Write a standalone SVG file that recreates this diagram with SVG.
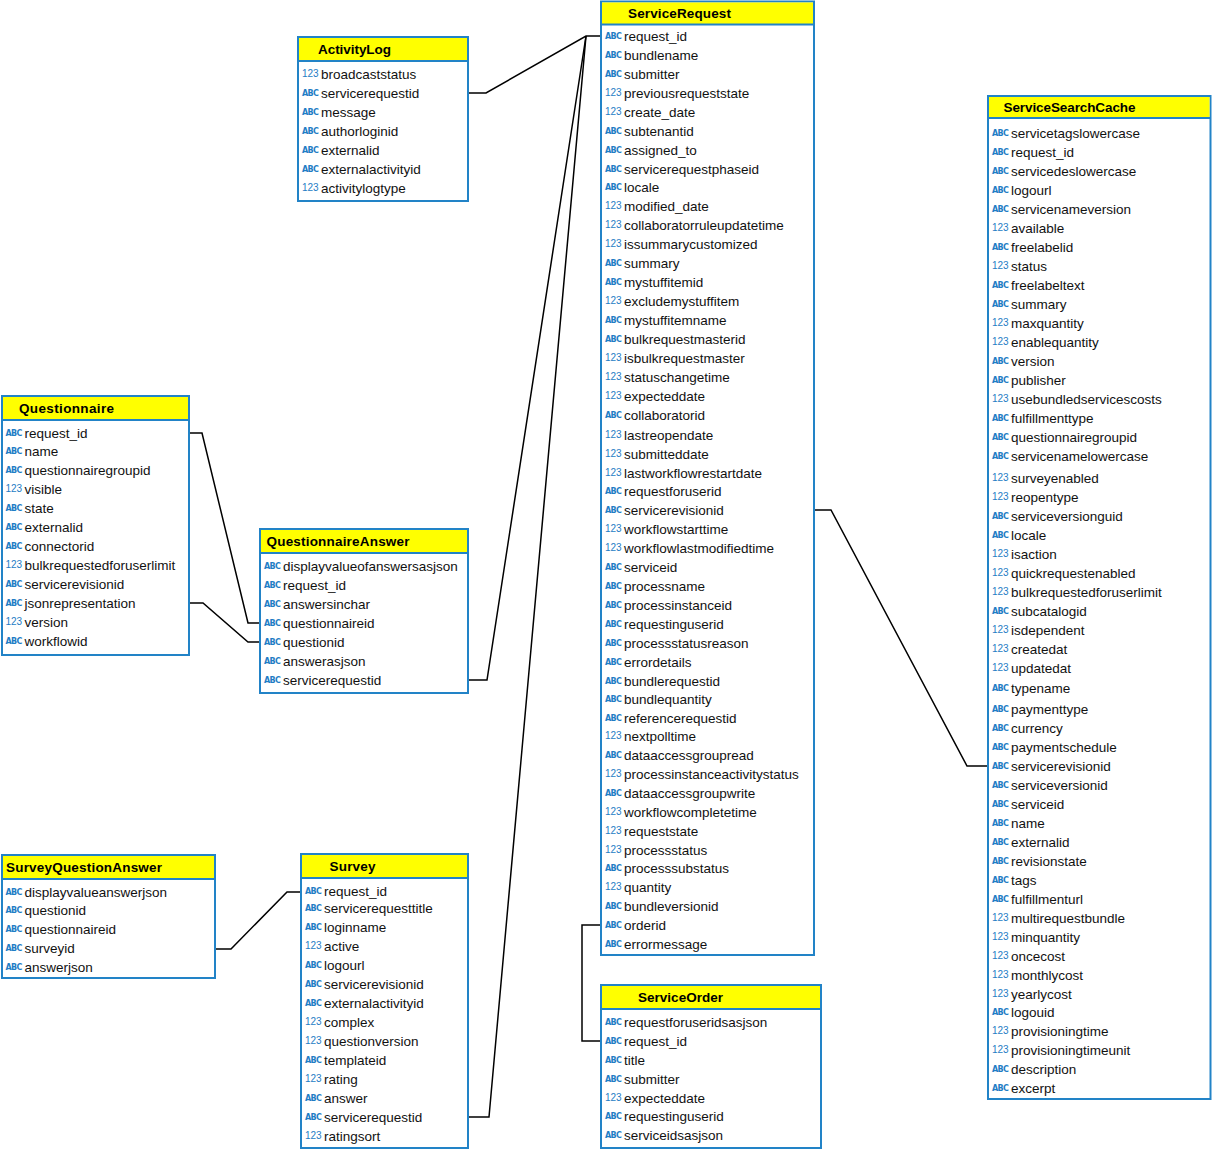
<svg xmlns="http://www.w3.org/2000/svg" width="1212" height="1150" viewBox="0 0 1212 1150">
<style>
.bg{fill:#fff}
.box{fill:#fff;stroke:#2283c7;stroke-width:2}
.hdr{fill:#ffff00}
.sep{stroke:#2283c7;stroke-width:2}
.t{font-family:"Liberation Sans",Arial,sans-serif;font-weight:bold;font-size:13.5px;fill:#000}
.f{font-family:"Liberation Sans",Arial,sans-serif;font-size:13.5px;fill:#111}
.a{font-family:"DejaVu Sans",sans-serif;font-weight:bold;font-size:8px;letter-spacing:-0.7px;fill:#1f7dc5}
.n{font-family:"Liberation Sans",Arial,sans-serif;font-size:10px;fill:#1f7dc5}
.c{fill:none;stroke:#000;stroke-width:1.5}
</style>
<rect class="bg" x="0" y="0" width="1212" height="1150"/>
<g id="connectors">
<path class="c" d="M468,93 H486 L586,36 H601"/>
<path class="c" d="M468,680 H487 L586,36"/>
<path class="c" d="M468,1117 H489 L586,36"/>
<path class="c" d="M189,433 H202 L248,623 H260"/>
<path class="c" d="M189,603 H203 L248,642 H260"/>
<path class="c" d="M215,949 H231 L287,892 H301"/>
<path class="c" d="M601,925 H582 V1041 H601"/>
<path class="c" d="M814,510 H831 L967,766 H988"/>
</g>
<g id="ActivityLog">
<rect class="box" x="298" y="37" width="170" height="164"/>
<rect class="hdr" x="299" y="38" width="168" height="23"/>
<line class="sep" x1="298" y1="61" x2="468" y2="61"/>
<text class="t" x="318" y="54" textLength="73">ActivityLog</text>
<text class="n" x="302" y="77">123</text><text class="f" x="321" y="78.5">broadcaststatus</text>
<text class="a" x="302" y="95.5">ABC</text><text class="f" x="321" y="97.5">servicerequestid</text>
<text class="a" x="302" y="114.5">ABC</text><text class="f" x="321" y="116.5">message</text>
<text class="a" x="302" y="133.5">ABC</text><text class="f" x="321" y="135.5">authorloginid</text>
<text class="a" x="302" y="152.5">ABC</text><text class="f" x="321" y="154.5">externalid</text>
<text class="a" x="302" y="171.5">ABC</text><text class="f" x="321" y="173.5">externalactivityid</text>
<text class="n" x="302" y="191">123</text><text class="f" x="321" y="192.5">activitylogtype</text>
</g>
<g id="ServiceRequest">
<rect class="box" x="601" y="1.5" width="213" height="953.5"/>
<rect class="hdr" x="602" y="2.5" width="211" height="22"/>
<line class="sep" x1="601" y1="24.5" x2="814" y2="24.5"/>
<text class="t" x="628" y="18" textLength="103">ServiceRequest</text>
<text class="a" x="605" y="38.5">ABC</text><text class="f" x="624" y="40.5">request_id</text>
<text class="a" x="605" y="57.5">ABC</text><text class="f" x="624" y="59.5">bundlename</text>
<text class="a" x="605" y="76.5">ABC</text><text class="f" x="624" y="78.5">submitter</text>
<text class="n" x="605" y="96">123</text><text class="f" x="624" y="97.5">previousrequeststate</text>
<text class="n" x="605" y="115">123</text><text class="f" x="624" y="116.5">create_date</text>
<text class="a" x="605" y="133.5">ABC</text><text class="f" x="624" y="135.5">subtenantid</text>
<text class="a" x="605" y="152.5">ABC</text><text class="f" x="624" y="154.5">assigned_to</text>
<text class="a" x="605" y="171.5">ABC</text><text class="f" x="624" y="173.5">servicerequestphaseid</text>
<text class="a" x="605" y="189.5">ABC</text><text class="f" x="624" y="191.5">locale</text>
<text class="n" x="605" y="209">123</text><text class="f" x="624" y="210.5">modified_date</text>
<text class="n" x="605" y="228">123</text><text class="f" x="624" y="229.5">collaboratorruleupdatetime</text>
<text class="n" x="605" y="247">123</text><text class="f" x="624" y="248.5">issummarycustomized</text>
<text class="a" x="605" y="265.5">ABC</text><text class="f" x="624" y="267.5">summary</text>
<text class="a" x="605" y="284.5">ABC</text><text class="f" x="624" y="286.5">mystuffitemid</text>
<text class="n" x="605" y="304">123</text><text class="f" x="624" y="305.5">excludemystuffitem</text>
<text class="a" x="605" y="322.5">ABC</text><text class="f" x="624" y="324.5">mystuffitemname</text>
<text class="a" x="605" y="341.5">ABC</text><text class="f" x="624" y="343.5">bulkrequestmasterid</text>
<text class="n" x="605" y="361">123</text><text class="f" x="624" y="362.5">isbulkrequestmaster</text>
<text class="n" x="605" y="380">123</text><text class="f" x="624" y="381.5">statuschangetime</text>
<text class="n" x="605" y="399">123</text><text class="f" x="624" y="400.5">expecteddate</text>
<text class="a" x="605" y="417.5">ABC</text><text class="f" x="624" y="419.5">collaboratorid</text>
<text class="n" x="605" y="438">123</text><text class="f" x="624" y="439.5">lastreopendate</text>
<text class="n" x="605" y="457">123</text><text class="f" x="624" y="458.5">submitteddate</text>
<text class="n" x="605" y="476">123</text><text class="f" x="624" y="477.5">lastworkflowrestartdate</text>
<text class="a" x="605" y="493.5">ABC</text><text class="f" x="624" y="495.5">requestforuserid</text>
<text class="a" x="605" y="512.5">ABC</text><text class="f" x="624" y="514.5">servicerevisionid</text>
<text class="n" x="605" y="532">123</text><text class="f" x="624" y="533.5">workflowstarttime</text>
<text class="n" x="605" y="551">123</text><text class="f" x="624" y="552.5">workflowlastmodifiedtime</text>
<text class="a" x="605" y="569.5">ABC</text><text class="f" x="624" y="571.5">serviceid</text>
<text class="a" x="605" y="588.5">ABC</text><text class="f" x="624" y="590.5">processname</text>
<text class="a" x="605" y="607.5">ABC</text><text class="f" x="624" y="609.5">processinstanceid</text>
<text class="a" x="605" y="626.5">ABC</text><text class="f" x="624" y="628.5">requestinguserid</text>
<text class="a" x="605" y="645.5">ABC</text><text class="f" x="624" y="647.5">processstatusreason</text>
<text class="a" x="605" y="664.5">ABC</text><text class="f" x="624" y="666.5">errordetails</text>
<text class="a" x="605" y="683.5">ABC</text><text class="f" x="624" y="685.5">bundlerequestid</text>
<text class="a" x="605" y="701.5">ABC</text><text class="f" x="624" y="703.5">bundlequantity</text>
<text class="a" x="605" y="720.5">ABC</text><text class="f" x="624" y="722.5">referencerequestid</text>
<text class="n" x="605" y="739">123</text><text class="f" x="624" y="740.5">nextpolltime</text>
<text class="a" x="605" y="757.5">ABC</text><text class="f" x="624" y="759.5">dataaccessgroupread</text>
<text class="n" x="605" y="777">123</text><text class="f" x="624" y="778.5">processinstanceactivitystatus</text>
<text class="a" x="605" y="795.5">ABC</text><text class="f" x="624" y="797.5">dataaccessgroupwrite</text>
<text class="n" x="605" y="815">123</text><text class="f" x="624" y="816.5">workflowcompletetime</text>
<text class="n" x="605" y="834">123</text><text class="f" x="624" y="835.5">requeststate</text>
<text class="n" x="605" y="853">123</text><text class="f" x="624" y="854.5">processstatus</text>
<text class="a" x="605" y="870.5">ABC</text><text class="f" x="624" y="872.5">processsubstatus</text>
<text class="n" x="605" y="890">123</text><text class="f" x="624" y="891.5">quantity</text>
<text class="a" x="605" y="908.5">ABC</text><text class="f" x="624" y="910.5">bundleversionid</text>
<text class="a" x="605" y="927.5">ABC</text><text class="f" x="624" y="929.5">orderid</text>
<text class="a" x="605" y="946.5">ABC</text><text class="f" x="624" y="948.5">errormessage</text>
</g>
<g id="ServiceOrder">
<rect class="box" x="601" y="985" width="220" height="163"/>
<rect class="hdr" x="602" y="986" width="218" height="23"/>
<line class="sep" x1="601" y1="1009" x2="821" y2="1009"/>
<text class="t" x="638" y="1002" textLength="85">ServiceOrder</text>
<text class="a" x="605" y="1024.5">ABC</text><text class="f" x="624" y="1026.5">requestforuseridsasjson</text>
<text class="a" x="605" y="1043.5">ABC</text><text class="f" x="624" y="1045.5">request_id</text>
<text class="a" x="605" y="1062.5">ABC</text><text class="f" x="624" y="1064.5">title</text>
<text class="a" x="605" y="1081.5">ABC</text><text class="f" x="624" y="1083.5">submitter</text>
<text class="n" x="605" y="1101">123</text><text class="f" x="624" y="1102.5">expecteddate</text>
<text class="a" x="605" y="1118.5">ABC</text><text class="f" x="624" y="1120.5">requestinguserid</text>
<text class="a" x="605" y="1137.5">ABC</text><text class="f" x="624" y="1139.5">serviceidsasjson</text>
</g>
<g id="ServiceSearchCache">
<rect class="box" x="988" y="96" width="222.5" height="1003"/>
<rect class="hdr" x="989" y="97" width="220.5" height="21"/>
<line class="sep" x1="988" y1="118" x2="1210.5" y2="118"/>
<text class="t" x="1003.5" y="112" textLength="132">ServiceSearchCache</text>
<text class="a" x="992" y="135.5">ABC</text><text class="f" x="1011" y="137.5">servicetagslowercase</text>
<text class="a" x="992" y="154.5">ABC</text><text class="f" x="1011" y="156.5">request_id</text>
<text class="a" x="992" y="173.5">ABC</text><text class="f" x="1011" y="175.5">servicedeslowercase</text>
<text class="a" x="992" y="192.5">ABC</text><text class="f" x="1011" y="194.5">logourl</text>
<text class="a" x="992" y="211.5">ABC</text><text class="f" x="1011" y="213.5">servicenameversion</text>
<text class="n" x="992" y="231">123</text><text class="f" x="1011" y="232.5">available</text>
<text class="a" x="992" y="249.5">ABC</text><text class="f" x="1011" y="251.5">freelabelid</text>
<text class="n" x="992" y="269">123</text><text class="f" x="1011" y="270.5">status</text>
<text class="a" x="992" y="287.5">ABC</text><text class="f" x="1011" y="289.5">freelabeltext</text>
<text class="a" x="992" y="306.5">ABC</text><text class="f" x="1011" y="308.5">summary</text>
<text class="n" x="992" y="326">123</text><text class="f" x="1011" y="327.5">maxquantity</text>
<text class="n" x="992" y="345">123</text><text class="f" x="1011" y="346.5">enablequantity</text>
<text class="a" x="992" y="363.5">ABC</text><text class="f" x="1011" y="365.5">version</text>
<text class="a" x="992" y="382.5">ABC</text><text class="f" x="1011" y="384.5">publisher</text>
<text class="n" x="992" y="402">123</text><text class="f" x="1011" y="403.5">usebundledservicescosts</text>
<text class="a" x="992" y="420.5">ABC</text><text class="f" x="1011" y="422.5">fulfillmenttype</text>
<text class="a" x="992" y="439.5">ABC</text><text class="f" x="1011" y="441.5">questionnairegroupid</text>
<text class="a" x="992" y="458.5">ABC</text><text class="f" x="1011" y="460.5">servicenamelowercase</text>
<text class="n" x="992" y="481">123</text><text class="f" x="1011" y="482.5">surveyenabled</text>
<text class="n" x="992" y="500">123</text><text class="f" x="1011" y="501.5">reopentype</text>
<text class="a" x="992" y="518.5">ABC</text><text class="f" x="1011" y="520.5">serviceversionguid</text>
<text class="a" x="992" y="537.5">ABC</text><text class="f" x="1011" y="539.5">locale</text>
<text class="n" x="992" y="557">123</text><text class="f" x="1011" y="558.5">isaction</text>
<text class="n" x="992" y="576">123</text><text class="f" x="1011" y="577.5">quickrequestenabled</text>
<text class="n" x="992" y="595">123</text><text class="f" x="1011" y="596.5">bulkrequestedforuserlimit</text>
<text class="a" x="992" y="613.5">ABC</text><text class="f" x="1011" y="615.5">subcatalogid</text>
<text class="n" x="992" y="633">123</text><text class="f" x="1011" y="634.5">isdependent</text>
<text class="n" x="992" y="652">123</text><text class="f" x="1011" y="653.5">createdat</text>
<text class="n" x="992" y="671">123</text><text class="f" x="1011" y="672.5">updatedat</text>
<text class="a" x="992" y="690.5">ABC</text><text class="f" x="1011" y="692.5">typename</text>
<text class="a" x="992" y="711.5">ABC</text><text class="f" x="1011" y="713.5">paymenttype</text>
<text class="a" x="992" y="730.5">ABC</text><text class="f" x="1011" y="732.5">currency</text>
<text class="a" x="992" y="749.5">ABC</text><text class="f" x="1011" y="751.5">paymentschedule</text>
<text class="a" x="992" y="768.5">ABC</text><text class="f" x="1011" y="770.5">servicerevisionid</text>
<text class="a" x="992" y="787.5">ABC</text><text class="f" x="1011" y="789.5">serviceversionid</text>
<text class="a" x="992" y="806.5">ABC</text><text class="f" x="1011" y="808.5">serviceid</text>
<text class="a" x="992" y="825.5">ABC</text><text class="f" x="1011" y="827.5">name</text>
<text class="a" x="992" y="844.5">ABC</text><text class="f" x="1011" y="846.5">externalid</text>
<text class="a" x="992" y="863.5">ABC</text><text class="f" x="1011" y="865.5">revisionstate</text>
<text class="a" x="992" y="882.5">ABC</text><text class="f" x="1011" y="884.5">tags</text>
<text class="a" x="992" y="901.5">ABC</text><text class="f" x="1011" y="903.5">fulfillmenturl</text>
<text class="n" x="992" y="921">123</text><text class="f" x="1011" y="922.5">multirequestbundle</text>
<text class="n" x="992" y="940">123</text><text class="f" x="1011" y="941.5">minquantity</text>
<text class="n" x="992" y="959">123</text><text class="f" x="1011" y="960.5">oncecost</text>
<text class="n" x="992" y="978">123</text><text class="f" x="1011" y="979.5">monthlycost</text>
<text class="n" x="992" y="997">123</text><text class="f" x="1011" y="998.5">yearlycost</text>
<text class="a" x="992" y="1014.5">ABC</text><text class="f" x="1011" y="1016.5">logouid</text>
<text class="n" x="992" y="1034">123</text><text class="f" x="1011" y="1035.5">provisioningtime</text>
<text class="n" x="992" y="1053">123</text><text class="f" x="1011" y="1054.5">provisioningtimeunit</text>
<text class="a" x="992" y="1071.5">ABC</text><text class="f" x="1011" y="1073.5">description</text>
<text class="a" x="992" y="1090.5">ABC</text><text class="f" x="1011" y="1092.5">excerpt</text>
</g>
<g id="Questionnaire">
<rect class="box" x="2" y="396" width="187" height="259"/>
<rect class="hdr" x="3" y="397" width="185" height="23"/>
<line class="sep" x1="2" y1="420" x2="189" y2="420"/>
<text class="t" x="19" y="413" textLength="95">Questionnaire</text>
<text class="a" x="5.5" y="435.5">ABC</text><text class="f" x="24.5" y="437.5">request_id</text>
<text class="a" x="5.5" y="453.5">ABC</text><text class="f" x="24.5" y="455.5">name</text>
<text class="a" x="5.5" y="472.5">ABC</text><text class="f" x="24.5" y="474.5">questionnairegroupid</text>
<text class="n" x="5.5" y="492">123</text><text class="f" x="24.5" y="493.5">visible</text>
<text class="a" x="5.5" y="510.5">ABC</text><text class="f" x="24.5" y="512.5">state</text>
<text class="a" x="5.5" y="529.5">ABC</text><text class="f" x="24.5" y="531.5">externalid</text>
<text class="a" x="5.5" y="548.5">ABC</text><text class="f" x="24.5" y="550.5">connectorid</text>
<text class="n" x="5.5" y="568">123</text><text class="f" x="24.5" y="569.5">bulkrequestedforuserlimit</text>
<text class="a" x="5.5" y="586.5">ABC</text><text class="f" x="24.5" y="588.5">servicerevisionid</text>
<text class="a" x="5.5" y="605.5">ABC</text><text class="f" x="24.5" y="607.5">jsonrepresentation</text>
<text class="n" x="5.5" y="625">123</text><text class="f" x="24.5" y="626.5">version</text>
<text class="a" x="5.5" y="643.5">ABC</text><text class="f" x="24.5" y="645.5">workflowid</text>
</g>
<g id="QuestionnaireAnswer">
<rect class="box" x="260" y="529" width="208" height="164"/>
<rect class="hdr" x="261" y="530" width="206" height="23"/>
<line class="sep" x1="260" y1="553" x2="468" y2="553"/>
<text class="t" x="266.5" y="546" textLength="143">QuestionnaireAnswer</text>
<text class="a" x="264" y="568.5">ABC</text><text class="f" x="283" y="570.5">displayvalueofanswersasjson</text>
<text class="a" x="264" y="587.5">ABC</text><text class="f" x="283" y="589.5">request_id</text>
<text class="a" x="264" y="606.5">ABC</text><text class="f" x="283" y="608.5">answersinchar</text>
<text class="a" x="264" y="625.5">ABC</text><text class="f" x="283" y="627.5">questionnaireid</text>
<text class="a" x="264" y="644.5">ABC</text><text class="f" x="283" y="646.5">questionid</text>
<text class="a" x="264" y="663.5">ABC</text><text class="f" x="283" y="665.5">answerasjson</text>
<text class="a" x="264" y="682.5">ABC</text><text class="f" x="283" y="684.5">servicerequestid</text>
</g>
<g id="SurveyQuestionAnswer">
<rect class="box" x="2" y="855" width="213" height="123"/>
<rect class="hdr" x="3" y="856" width="211" height="23"/>
<line class="sep" x1="2" y1="879" x2="215" y2="879"/>
<text class="t" x="6" y="872" textLength="156">SurveyQuestionAnswer</text>
<text class="a" x="5.5" y="894.5">ABC</text><text class="f" x="24.5" y="896.5">displayvalueanswerjson</text>
<text class="a" x="5.5" y="912.5">ABC</text><text class="f" x="24.5" y="914.5">questionid</text>
<text class="a" x="5.5" y="931.5">ABC</text><text class="f" x="24.5" y="933.5">questionnaireid</text>
<text class="a" x="5.5" y="950.5">ABC</text><text class="f" x="24.5" y="952.5">surveyid</text>
<text class="a" x="5.5" y="969.5">ABC</text><text class="f" x="24.5" y="971.5">answerjson</text>
</g>
<g id="Survey">
<rect class="box" x="301" y="854" width="167" height="294"/>
<rect class="hdr" x="302" y="855" width="165" height="23"/>
<line class="sep" x1="301" y1="878" x2="468" y2="878"/>
<text class="t" x="329.5" y="871" textLength="46">Survey</text>
<text class="a" x="305" y="893.5">ABC</text><text class="f" x="324" y="895.5">request_id</text>
<text class="a" x="305" y="910.5">ABC</text><text class="f" x="324" y="912.5">servicerequesttitle</text>
<text class="a" x="305" y="929.5">ABC</text><text class="f" x="324" y="931.5">loginname</text>
<text class="n" x="305" y="949">123</text><text class="f" x="324" y="950.5">active</text>
<text class="a" x="305" y="967.5">ABC</text><text class="f" x="324" y="969.5">logourl</text>
<text class="a" x="305" y="986.5">ABC</text><text class="f" x="324" y="988.5">servicerevisionid</text>
<text class="a" x="305" y="1005.5">ABC</text><text class="f" x="324" y="1007.5">externalactivityid</text>
<text class="n" x="305" y="1025">123</text><text class="f" x="324" y="1026.5">complex</text>
<text class="n" x="305" y="1044">123</text><text class="f" x="324" y="1045.5">questionversion</text>
<text class="a" x="305" y="1062.5">ABC</text><text class="f" x="324" y="1064.5">templateid</text>
<text class="n" x="305" y="1082">123</text><text class="f" x="324" y="1083.5">rating</text>
<text class="a" x="305" y="1100.5">ABC</text><text class="f" x="324" y="1102.5">answer</text>
<text class="a" x="305" y="1119.5">ABC</text><text class="f" x="324" y="1121.5">servicerequestid</text>
<text class="n" x="305" y="1139">123</text><text class="f" x="324" y="1140.5">ratingsort</text>
</g>
</svg>
